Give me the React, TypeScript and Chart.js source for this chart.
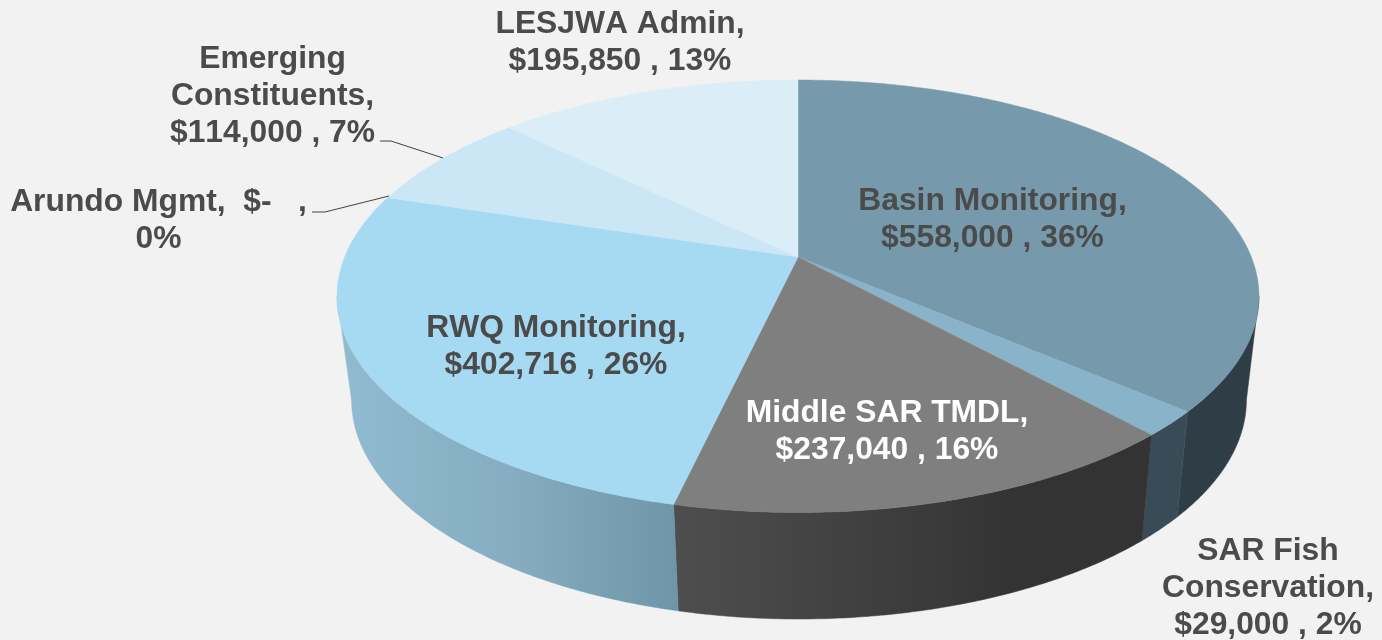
import React, { useEffect, useRef } from "react";
import { Chart, registerables } from "chart.js";

Chart.register(...registerables);

const categories = ["Basin Monitoring", "SAR Fish Conservation", "Middle SAR TMDL", "RWQ Monitoring", "Arundo Mgmt", "Emerging Constituents", "LESJWA Admin"];
const amounts = [558000, 29000, 237040, 402716, 0, 114000, 195850];
const labelLines = [
  ["Basin Monitoring,", "$558,000 , 36%"],
  ["SAR Fish", "Conservation,", "$29,000 , 2%"],
  ["Middle SAR TMDL,", "$237,040 , 16%"],
  ["RWQ Monitoring,", "$402,716 , 26%"],
  ["Arundo Mgmt,  $-   ,", "0%"],
  ["Emerging", "Constituents,", "$114,000 , 7%"],
  ["LESJWA Admin,", "$195,850 , 13%"],
];
const topColors = ["#769aac", "#88b3c9", "#7f7f7f", "#a6daf2", "#a6daf2", "#cbe7f6", "#dbedf7"];
const wallStops: [number, string][][] = [
  [[0, "#2f3e46"], [1, "#2f3e46"]],
  [[0, "#384b57"], [1, "#384b57"]],
  [[0, "#4e4e4e"], [0.55, "#3a3a3a"], [0.7, "#333333"], [1, "#333333"]],
  [[0, "#90bbd1"], [0.5, "#86adc1"], [1, "#6f95a8"]],
  [[0, "#90bbd1"], [1, "#90bbd1"]],
  [[0, "#90bbd1"], [1, "#90bbd1"]],
  [[0, "#90bbd1"], [1, "#90bbd1"]],
];
const labelPos = [
  { x: 992.5, y: 201, color: "#4b4b4b" },
  { x: 1268, y: 551, color: "#4b4b4b" },
  { x: 887, y: 413, color: "#ffffff" },
  { x: 556, y: 328, color: "#4b4b4b" },
  { x: 158.5, y: 202, color: "#4b4b4b" },
  { x: 272.5, y: 59, color: "#4b4b4b" },
  { x: 620, y: 24, color: "#4b4b4b" },
];
const leaders = [
  [[380, 141], [391, 141], [443, 158]],
  [[312, 212], [325, 212], [389, 196]],
];

const K = 0.1815;
const top = { cx: 798, cy: 257, rx: 453.3, ry: 209.1 };
const bottom = { cx: 799, cy: 360, rx: 440, ry: 212 };
const FONT = 'bold 31.8px "Liberation Sans", Arial, sans-serif';
const LINE_H = 37;

function project(p: typeof top, angle: number) {
  const t = angle + Math.PI / 2;
  const u = Math.sin(t);
  const v = -Math.cos(t);
  const w = 1 - K * v;
  return { x: p.cx + (p.rx * u) / w, y: p.cy + (p.ry * v) / w };
}

const VIS_A = (100.5 - 90) * (Math.PI / 180);
const VIS_B = (259.5 - 90) * (Math.PI / 180);

const pie3d = {
  id: "pie3d",
  beforeDatasetDraw(chart: any, args: any) {
    const ctx = chart.ctx as CanvasRenderingContext2D;
    const arcs = args.meta.data as any[];
    const STEP = Math.PI / 360;

    // walls
    arcs.forEach((arc, i) => {
      const a0 = Math.max(arc.startAngle, VIS_A);
      const a1 = Math.min(arc.endAngle, VIS_B);
      if (a1 <= a0) return;
      const upper: { x: number; y: number }[] = [];
      const lower: { x: number; y: number }[] = [];
      const n = Math.ceil((a1 - a0) / STEP);
      for (let j = 0; j <= n; j++) {
        const a = a0 + ((a1 - a0) * j) / n;
        upper.push(project(top, a));
        lower.push(project(bottom, a));
      }
      const xs = [...upper, ...lower].map((p) => p.x);
      const g = ctx.createLinearGradient(Math.min(...xs), 0, Math.max(...xs), 0);
      wallStops[i].forEach(([o, c]) => g.addColorStop(o, c));
      ctx.beginPath();
      upper.forEach((p, j) => (j ? ctx.lineTo(p.x, p.y) : ctx.moveTo(p.x, p.y)));
      lower.reverse().forEach((p) => ctx.lineTo(p.x, p.y));
      ctx.closePath();
      ctx.fillStyle = g;
      ctx.fill();
      ctx.strokeStyle = g;
      ctx.lineWidth = 0.5;
      ctx.stroke();
    });

    // top faces
    arcs.forEach((arc) => {
      if (arc.endAngle - arc.startAngle <= 0) return;
      const n = Math.ceil((arc.endAngle - arc.startAngle) / STEP);
      ctx.beginPath();
      ctx.moveTo(top.cx, top.cy);
      for (let j = 0; j <= n; j++) {
        const p = project(top, arc.startAngle + ((arc.endAngle - arc.startAngle) * j) / n);
        ctx.lineTo(p.x, p.y);
      }
      ctx.closePath();
      ctx.fillStyle = arc.options.backgroundColor;
      ctx.fill();
      ctx.strokeStyle = arc.options.backgroundColor;
      ctx.lineWidth = 0.5;
      ctx.stroke();
    });
    return false;
  },
  afterDatasetsDraw(chart: any) {
    const ctx = chart.ctx as CanvasRenderingContext2D;
    ctx.save();
    ctx.strokeStyle = "#404040";
    ctx.lineWidth = 1;
    leaders.forEach((pts) => {
      ctx.beginPath();
      pts.forEach(([x, y], j) => (j ? ctx.lineTo(x, y) : ctx.moveTo(x, y)));
      ctx.stroke();
    });
    ctx.font = FONT;
    (ctx as any).fontKerning = "none";
    ctx.textAlign = "center";
    ctx.textBaseline = "middle";
    labelLines.forEach((lines, i) => {
      ctx.fillStyle = labelPos[i].color;
      lines.forEach((line, j) => ctx.fillText(line, labelPos[i].x, labelPos[i].y + j * LINE_H));
    });
    ctx.restore();
  },
};

export default function App() {
  const ref = useRef<HTMLCanvasElement>(null);
  useEffect(() => {
    document.body.style.margin = "0";
    const chart = new Chart(ref.current!, {
      type: "pie",
      data: {
        labels: categories,
        datasets: [{ data: amounts, backgroundColor: topColors, borderWidth: 0 }],
      },
      options: {
        animation: false,
        responsive: false,
        plugins: { legend: { display: false }, tooltip: { enabled: false } },
      },
      plugins: [pie3d],
    } as any);
    return () => chart.destroy();
  }, []);
  return (
    <canvas
      ref={ref}
      width={1382}
      height={640}
      style={{ display: "block", width: 1382, height: 640, background: "#f2f2f2" }}
    />
  );
}
